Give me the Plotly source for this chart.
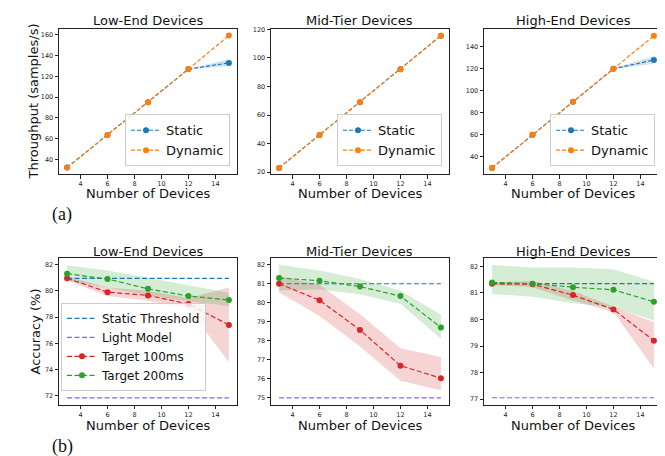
import plotly.graph_objects as go

# ---------------- data ----------------
devices = [3, 6, 9, 12, 15]
panel_titles = ["Low-End Devices", "Mid-Tier Devices", "High-End Devices"]

# Throughput (samples/s)
thr_static_low = [32, 63.5, 95, 127, 133]
thr_dynamic_low = [32, 63.5, 95, 127, 159.5]
thr_static_low_lo = [32, 63.5, 95, 126.6, 130]
thr_static_low_hi = [32, 63.5, 95, 127.4, 136.5]

thr_static_mid = [23, 46, 69, 92, 115.5]
thr_dynamic_mid = [23, 46, 69, 92, 115.5]

thr_static_high = [30, 60, 90, 120, 128]
thr_dynamic_high = [30, 60, 90, 120, 150]
thr_static_high_lo = [30, 60, 90, 119.6, 124.5]
thr_static_high_hi = [30, 60, 90, 120.4, 131.5]

# Accuracy (%)
static_thr = [80.95, 81.0, 81.35]
light_model = [71.85, 75.0, 77.05]

t100_low = [80.95, 79.9, 79.65, 79.0, 77.4]
t100_low_lo = [80.8, 79.6, 79.25, 78.65, 74.55]
t100_low_hi = [81.1, 80.25, 80.0, 79.45, 80.25]
t200_low = [81.3, 80.9, 80.15, 79.6, 79.3]
t200_low_lo = [80.75, 80.25, 79.65, 79.2, 78.85]
t200_low_hi = [81.95, 81.55, 81.0, 80.45, 79.85]

t100_mid = [81.0, 80.13, 78.57, 76.69, 76.03]
t100_mid_lo = [80.55, 79.3, 77.7, 75.9, 75.4]
t100_mid_hi = [81.4, 80.95, 79.4, 77.6, 77.15]
t200_mid = [81.3, 81.16, 80.85, 80.35, 78.7]
t200_mid_lo = [80.65, 80.7, 80.45, 79.95, 78.1]
t200_mid_hi = [82.0, 81.7, 81.25, 80.65, 79.37]

t100_high = [81.35, 81.33, 80.92, 80.38, 79.2]
t100_high_lo = [81.3, 81.22, 80.72, 80.28, 78.15]
t100_high_hi = [81.4, 81.45, 81.08, 80.5, 79.9]
t200_high = [81.4, 81.35, 81.22, 81.12, 80.67]
t200_high_lo = [80.96, 80.86, 80.61, 80.46, 79.96]
t200_high_hi = [82.06, 81.96, 81.96, 81.9, 81.42]

top_ranges = [[25.6, 165.9], [18.6, 120.3], [24.3, 156.3]]
top_ticks = [[40, 60, 80, 100, 120, 140, 160], [20, 40, 60, 80, 100, 120], [40, 60, 80, 100, 120, 140]]
bot_ranges = [[71.33, 82.48], [74.64, 82.34], [76.79, 82.31]]
bot_ticks = [[72, 74, 76, 78, 80, 82], [75, 76, 77, 78, 79, 80, 81, 82], [77, 78, 79, 80, 81, 82]]
x_ticks = [4, 6, 8, 10, 12, 14]

# ---------------- style ----------------
W, H = 665, 456
BLUE, ORANGE, RED, GREEN, PURPLE = "#1f77b4", "#ff7f0e", "#d62728", "#2ca02c", "#7b68ee"
FONT = "DejaVu Sans"

def rgba(hexc, a):
    h = hexc.lstrip("#")
    return "rgba(%d,%d,%d,%s)" % (int(h[0:2], 16), int(h[2:4], 16), int(h[4:6], 16), a)

def px_x(p):
    return p / W

def px_y(p):
    return 1 - p / H

col_px = [(51, 229), (263, 441), (476, 654)]
top_px = (18, 165)
bot_px = (250, 398)

fig = go.Figure()

def band(ax, lo, hi, color):
    fig.add_trace(go.Scatter(
        x=devices + devices[::-1], y=hi + lo[::-1], fill="toself",
        fillcolor=rgba(color, 0.2), line=dict(width=0), mode="lines",
        hoverinfo="skip", showlegend=False, xaxis="x%d" % ax, yaxis="y%d" % ax))

def line(ax, y, color, name, legend, show, markers=True, dash="4px,2px", width=1.2):
    fig.add_trace(go.Scatter(
        x=devices, y=y, name=name, mode="lines+markers" if markers else "lines",
        line=dict(color=color, width=width, dash=dash),
        marker=dict(color=color, size=6),
        showlegend=show, legend=legend, xaxis="x%d" % ax, yaxis="y%d" % ax))

# top row
top_data = [
    (thr_static_low, thr_dynamic_low, thr_static_low_lo, thr_static_low_hi),
    (thr_static_mid, thr_dynamic_mid, None, None),
    (thr_static_high, thr_dynamic_high, thr_static_high_lo, thr_static_high_hi),
]
legend_names = ["legend", "legend2", "legend3"]
for i, (st, dy, lo, hi) in enumerate(top_data):
    ax = i + 1
    if lo is not None:
        band(ax, lo, hi, BLUE)
    line(ax, st, BLUE, "Static", legend_names[i], True)
    line(ax, dy, ORANGE, "Dynamic", legend_names[i], True)

# bottom row
bot_data = [
    (t100_low, t100_low_lo, t100_low_hi, t200_low, t200_low_lo, t200_low_hi),
    (t100_mid, t100_mid_lo, t100_mid_hi, t200_mid, t200_mid_lo, t200_mid_hi),
    (t100_high, t100_high_lo, t100_high_hi, t200_high, t200_high_lo, t200_high_hi),
]
for i, (r, rlo, rhi, g, glo, ghi) in enumerate(bot_data):
    ax = i + 4
    show = i == 0
    band(ax, rlo, rhi, RED)
    band(ax, glo, ghi, GREEN)
    line(ax, [static_thr[i]] * len(devices), BLUE, "Static Threshold", "legend4", show,
         markers=False, dash="5px,2.5px", width=1.2)
    line(ax, [light_model[i]] * len(devices), PURPLE, "Light Model", "legend4", show,
         markers=False, dash="5px,2.5px", width=1.2)
    line(ax, r, RED, "Target 100ms", "legend4", show, dash="5px,2.5px", width=1.2)
    line(ax, g, GREEN, "Target 200ms", "legend4", show, dash="5px,2.5px", width=1.2)

axis_common = dict(
    showline=True, linecolor="#222", linewidth=1, mirror=True,
    ticks="outside", ticklen=3.5, tickwidth=0.8, tickcolor="#222",
    showgrid=False, zeroline=False,
    tickfont=dict(family=FONT, size=6.5, color="#222"),
)

layout = dict(
    width=W, height=H, margin=dict(l=0, r=0, t=0, b=0),
    paper_bgcolor="white", plot_bgcolor="white",
    font=dict(family=FONT, color="#111"),
    hovermode=False,
)

for i in range(6):
    ax = i + 1
    c = i % 3
    rowpx = top_px if i < 3 else bot_px
    xa = dict(axis_common, domain=[px_x(col_px[c][0]), px_x(col_px[c][1])],
              range=[2.4, 15.6], tickvals=x_ticks, anchor="y%d" % ax)
    ya = dict(axis_common, domain=[px_y(rowpx[1]), px_y(rowpx[0])],
              range=(top_ranges[c] if i < 3 else bot_ranges[c]),
              tickvals=(top_ticks[c] if i < 3 else bot_ticks[c]), anchor="x%d" % ax)
    layout["xaxis" if ax == 1 else "xaxis%d" % ax] = xa
    layout["yaxis" if ax == 1 else "yaxis%d" % ax] = ya

leg_common = dict(bgcolor="rgba(255,255,255,0.8)", bordercolor="#cccccc", borderwidth=1,
                  tracegroupgap=0)
layout["legend"] = dict(leg_common, x=px_x(222), y=px_y(157), xanchor="right", yanchor="bottom",
                        font=dict(family=FONT, size=13, color="#111"))
layout["legend2"] = dict(leg_common, x=px_x(434), y=px_y(157), xanchor="right", yanchor="bottom",
                         font=dict(family=FONT, size=13, color="#111"))
layout["legend3"] = dict(leg_common, x=px_x(647), y=px_y(157), xanchor="right", yanchor="bottom",
                         font=dict(family=FONT, size=13, color="#111"))
layout["legend4"] = dict(leg_common, x=px_x(53), y=px_y(384), xanchor="left", yanchor="bottom",
                         font=dict(family=FONT, size=12, color="#111"))

def ann(text, x, y, size=13, family=FONT, angle=0):
    return dict(text=text, x=x, y=y, xref="paper", yref="paper", showarrow=False,
                xanchor="center", yanchor="middle", textangle=angle, borderpad=0,
                font=dict(family=family, size=size, color="#111"))

annotations = []
for c in range(3):
    cx = px_x((col_px[c][0] + col_px[c][1]) / 2)
    annotations.append(ann(panel_titles[c], cx, px_y(10)))
    annotations.append(ann(panel_titles[c], cx, px_y(243)))
    annotations.append(ann("Number of Devices", cx, px_y(185)))
    annotations.append(ann("Number of Devices", cx, px_y(419)))
annotations.append(ann("Throughput (samples/s)", px_x(25), px_y(91.5), angle=-90))
annotations.append(ann("Accuracy (%)", px_x(27), px_y(324), angle=-90))
annotations.append(ann("(a)", px_x(54), px_y(206), size=18, family="Liberation Serif"))
annotations.append(ann("(b)", px_x(54), px_y(440), size=18, family="Liberation Serif"))
layout["annotations"] = annotations

fig.update_layout(**layout)
fig.write_html("out.html")
